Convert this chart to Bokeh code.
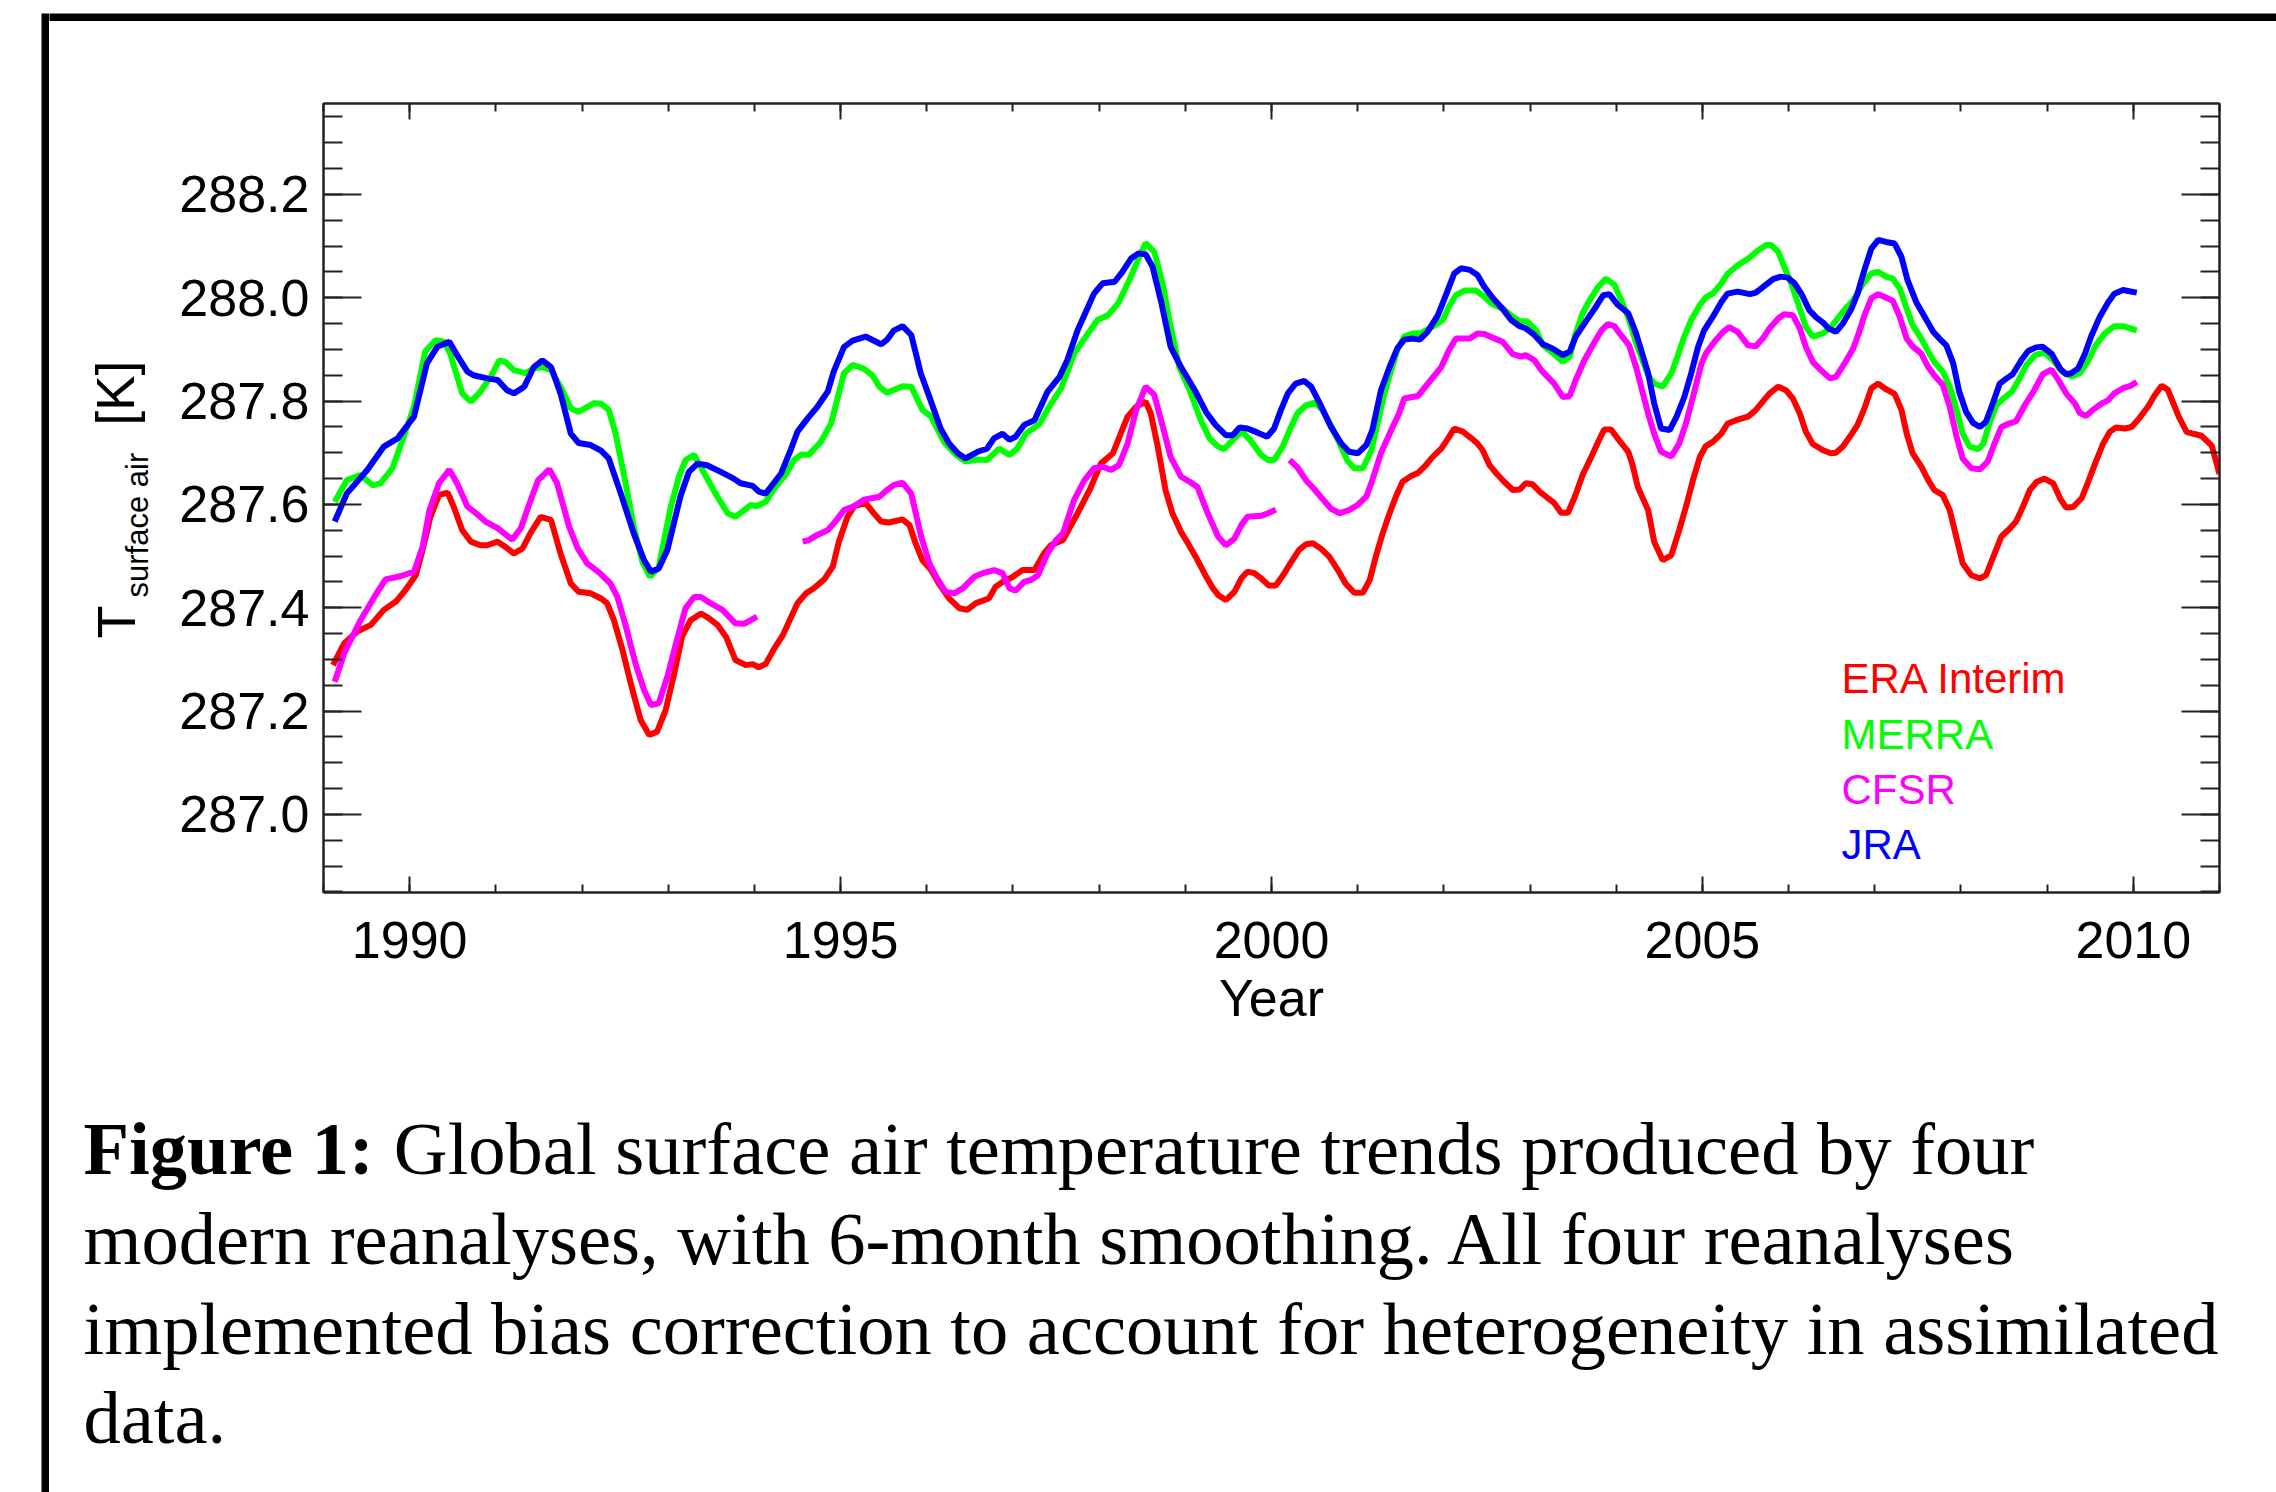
import math
from bokeh.plotting import figure
from bokeh.layouts import row, column
from bokeh.models import (Range1d, LinearAxis, SingleIntervalTicker, PrintfTickFormatter,
                          Label, CustomLabelingPolicy)
from bokeh.embed import file_html
from bokeh.resources import INLINE

NAN = float("nan")

# ---------------- data ----------------
era_year = [1989.11, 1989.24, 1989.39, 1989.55, 1989.70, 1989.84, 1989.95, 1990.07, 1990.15, 1990.24,
            1990.34, 1990.44, 1990.51, 1990.61, 1990.71, 1990.82, 1990.90, 1991.02, 1991.11, 1991.21,
            1991.31, 1991.40, 1991.52, 1991.64, 1991.75, 1991.87, 1991.96, 1992.10, 1992.22, 1992.29,
            1992.37, 1992.47, 1992.58, 1992.68, 1992.78, 1992.87, 1992.97, 1993.07, 1993.16, 1993.26,
            1993.38, 1993.47, 1993.57, 1993.67, 1993.78, 1993.90, 1993.98, 1994.05, 1994.13, 1994.23,
            1994.33, 1994.42, 1994.50, 1994.60, 1994.69, 1994.81, 1994.91, 1994.98, 1995.08, 1995.16,
            1995.29, 1995.37, 1995.47, 1995.56, 1995.72, 1995.80, 1995.87, 1995.95, 1996.05, 1996.14,
            1996.26, 1996.38, 1996.47, 1996.57, 1996.72, 1996.80, 1996.88, 1997.00, 1997.11, 1997.25,
            1997.36, 1997.44, 1997.58, 1997.75, 1997.89, 1998.02, 1998.16, 1998.25, 1998.33, 1998.43,
            1998.54, 1998.60, 1998.68, 1998.77, 1998.85, 1998.95, 1999.03, 1999.12, 1999.22, 1999.32,
            1999.38, 1999.47, 1999.57, 1999.65, 1999.72, 1999.80, 1999.88, 1999.97, 2000.05, 2000.15,
            2000.23, 2000.32, 2000.40, 2000.48, 2000.57, 2000.67, 2000.77, 2000.86, 2000.96, 2001.06,
            2001.14, 2001.21, 2001.29, 2001.37, 2001.45, 2001.52, 2001.62, 2001.70, 2001.78, 2001.87,
            2001.97, 2002.05, 2002.12, 2002.22, 2002.32, 2002.39, 2002.45, 2002.53, 2002.61, 2002.70,
            2002.80, 2002.88, 2002.95, 2003.03, 2003.11, 2003.21, 2003.28, 2003.36, 2003.44, 2003.52,
            2003.61, 2003.71, 2003.79, 2003.86, 2003.94, 2004.03, 2004.14, 2004.19, 2004.25, 2004.37,
            2004.44, 2004.54, 2004.64, 2004.73, 2004.81, 2004.89, 2004.97, 2005.04, 2005.12, 2005.22,
            2005.29, 2005.39, 2005.53, 2005.62, 2005.70, 2005.78, 2005.88, 2005.97, 2006.05, 2006.13,
            2006.20, 2006.28, 2006.40, 2006.49, 2006.55, 2006.63, 2006.71, 2006.80, 2006.88, 2006.96,
            2007.04, 2007.13, 2007.23, 2007.31, 2007.37, 2007.44, 2007.54, 2007.62, 2007.69, 2007.79,
            2007.87, 2007.95, 2008.02, 2008.12, 2008.22, 2008.29, 2008.39, 2008.47, 2008.57, 2008.64,
            2008.72, 2008.80, 2008.88, 2008.97, 2009.07, 2009.15, 2009.22, 2009.30, 2009.40, 2009.47,
            2009.55, 2009.65, 2009.73, 2009.80, 2009.90, 2009.98, 2010.07, 2010.17, 2010.25, 2010.33,
            2010.40, 2010.53, 2010.62, 2010.79, 2010.91, 2011.00]
era_temp = [287.289, 287.331, 287.354, 287.367, 287.396, 287.412, 287.434, 287.463, 287.512, 287.576,
            287.618, 287.623, 287.596, 287.550, 287.528, 287.521, 287.521, 287.528, 287.518, 287.505,
            287.515, 287.544, 287.576, 287.570, 287.505, 287.447, 287.431, 287.428, 287.418, 287.409,
            287.376, 287.318, 287.244, 287.183, 287.154, 287.160, 287.202, 287.273, 287.344, 287.376,
            287.389, 287.380, 287.367, 287.344, 287.299, 287.289, 287.291, 287.285, 287.291, 287.321,
            287.347, 287.380, 287.409, 287.428, 287.438, 287.455, 287.480, 287.528, 287.576, 287.597,
            287.603, 287.586, 287.567, 287.565, 287.571, 287.560, 287.525, 287.492, 287.473, 287.447,
            287.418, 287.399, 287.396, 287.409, 287.418, 287.441, 287.450, 287.460, 287.473, 287.473,
            287.505, 287.521, 287.531, 287.583, 287.628, 287.679, 287.699, 287.737, 287.770, 287.789,
            287.799, 287.776, 287.712, 287.628, 287.583, 287.547, 287.525, 287.499, 287.467, 287.438,
            287.425, 287.415, 287.431, 287.457, 287.470, 287.467, 287.457, 287.443, 287.443, 287.467,
            287.489, 287.512, 287.523, 287.525, 287.515, 287.499, 287.473, 287.447, 287.429, 287.429,
            287.454, 287.499, 287.544, 287.583, 287.618, 287.644, 287.655, 287.661, 287.674, 287.692,
            287.708, 287.728, 287.747, 287.741, 287.728, 287.718, 287.705, 287.676, 287.660, 287.644,
            287.628, 287.629, 287.641, 287.639, 287.625, 287.612, 287.603, 287.584, 287.584, 287.615,
            287.657, 287.692, 287.721, 287.745, 287.745, 287.725, 287.702, 287.676, 287.634, 287.589,
            287.528, 287.492, 287.502, 287.550, 287.596, 287.647, 287.692, 287.713, 287.721, 287.737,
            287.756, 287.763, 287.770, 287.783, 287.799, 287.815, 287.828, 287.821, 287.805, 287.776,
            287.741, 287.717, 287.705, 287.699, 287.700, 287.712, 287.731, 287.754, 287.786, 287.825,
            287.834, 287.823, 287.814, 287.783, 287.737, 287.699, 287.673, 287.647, 287.628, 287.618,
            287.589, 287.534, 287.486, 287.463, 287.457, 287.463, 287.505, 287.538, 287.554, 287.567,
            287.596, 287.628, 287.644, 287.650, 287.641, 287.612, 287.594, 287.595, 287.612, 287.641,
            287.676, 287.718, 287.741, 287.749, 287.747, 287.750, 287.767, 287.789, 287.812, 287.830,
            287.822, 287.769, 287.740, 287.733, 287.714, 287.659]

merra_year = [1989.13, 1989.27, 1989.43, 1989.57, 1989.66, 1989.80, 1989.93, 1990.05, 1990.18, 1990.30,
              1990.40, 1990.47, 1990.61, 1990.71, 1990.82, 1990.94, 1991.04, 1991.11, 1991.21, 1991.34,
              1991.44, 1991.54, 1991.64, 1991.75, 1991.87, 1991.96, 1992.14, 1992.22, 1992.31, 1992.39,
              1992.49, 1992.60, 1992.70, 1992.79, 1992.89, 1993.03, 1993.13, 1993.20, 1993.30, 1993.42,
              1993.57, 1993.69, 1993.78, 1993.96, 1994.03, 1994.13, 1994.23, 1994.36, 1994.46, 1994.54,
              1994.63, 1994.77, 1994.89, 1995.04, 1995.14, 1995.27, 1995.37, 1995.45, 1995.54, 1995.72,
              1995.82, 1995.95, 1996.05, 1996.20, 1996.34, 1996.45, 1996.59, 1996.70, 1996.84, 1996.96,
              1997.05, 1997.15, 1997.31, 1997.42, 1997.56, 1997.71, 1997.83, 1997.98, 1998.10, 1998.22,
              1998.35, 1998.45, 1998.54, 1998.64, 1998.74, 1998.83, 1998.93, 1999.05, 1999.18, 1999.28,
              1999.38, 1999.45, 1999.57, 1999.66, 1999.76, 1999.88, 1999.96, 2000.03, 2000.13, 2000.21,
              2000.30, 2000.40, 2000.50, 2000.59, 2000.69, 2000.79, 2000.88, 2000.96, 2001.06, 2001.16,
              2001.23, 2001.31, 2001.39, 2001.46, 2001.54, 2001.64, 2001.74, 2001.87, 2001.99, 2002.06,
              2002.14, 2002.24, 2002.37, 2002.47, 2002.55, 2002.70, 2002.80, 2002.88, 2002.97, 2003.07,
              2003.15, 2003.25, 2003.38, 2003.46, 2003.53, 2003.61, 2003.69, 2003.79, 2003.88, 2003.98,
              2004.06, 2004.15, 2004.23, 2004.37, 2004.44, 2004.54, 2004.64, 2004.71, 2004.79, 2004.87,
              2004.97, 2005.04, 2005.12, 2005.22, 2005.29, 2005.41, 2005.55, 2005.64, 2005.74, 2005.80,
              2005.88, 2005.95, 2006.03, 2006.11, 2006.20, 2006.28, 2006.40, 2006.49, 2006.57, 2006.65,
              2006.75, 2006.82, 2006.88, 2006.96, 2007.04, 2007.13, 2007.21, 2007.29, 2007.37, 2007.44,
              2007.54, 2007.62, 2007.69, 2007.79, 2007.87, 2007.95, 2008.02, 2008.10, 2008.20, 2008.26,
              2008.33, 2008.41, 2008.49, 2008.59, 2008.68, 2008.76, 2008.86, 2008.97, 2009.07, 2009.17,
              2009.28, 2009.38, 2009.48, 2009.57, 2009.67, 2009.78, 2009.88, 2010.04]
merra_temp = [287.605, 287.647, 287.657, 287.637, 287.641, 287.670, 287.731, 287.789, 287.896, 287.918,
              287.915, 287.892, 287.815, 287.799, 287.818, 287.847, 287.879, 287.876, 287.860, 287.854,
              287.863, 287.866, 287.860, 287.828, 287.786, 287.779, 287.796, 287.795, 287.783, 287.737,
              287.654, 287.557, 287.489, 287.460, 287.479, 287.596, 287.657, 287.686, 287.696, 287.660,
              287.615, 287.583, 287.576, 287.599, 287.597, 287.605, 287.631, 287.657, 287.686, 287.696,
              287.696, 287.721, 287.757, 287.854, 287.870, 287.863, 287.850, 287.828, 287.816, 287.829,
              287.828, 287.783, 287.770, 287.721, 287.696, 287.683, 287.687, 287.686, 287.708, 287.696,
              287.708, 287.737, 287.756, 287.789, 287.825, 287.892, 287.921, 287.957, 287.966, 287.989,
              288.034, 288.073, 288.106, 288.089, 288.025, 287.944, 287.866, 287.821, 287.763, 287.728,
              287.712, 287.707, 287.728, 287.741, 287.723, 287.696, 287.686, 287.686, 287.712, 287.744,
              287.776, 287.792, 287.797, 287.783, 287.753, 287.718, 287.685, 287.670, 287.670, 287.705,
              287.757, 287.815, 287.860, 287.899, 287.925, 287.931, 287.932, 287.944, 287.957, 287.983,
              288.005, 288.014, 288.014, 288.002, 287.989, 287.977, 287.963, 287.955, 287.954, 287.937,
              287.908, 287.895, 287.876, 287.886, 287.931, 287.970, 287.995, 288.021, 288.037, 288.025,
              287.995, 287.957, 287.912, 287.850, 287.834, 287.828, 287.854, 287.886, 287.925, 287.957,
              287.986, 288.001, 288.008, 288.028, 288.046, 288.063, 288.078, 288.091, 288.102, 288.102,
              288.089, 288.060, 288.028, 287.989, 287.944, 287.925, 287.931, 287.943, 287.960, 287.977,
              287.995, 288.015, 288.031, 288.047, 288.050, 288.041, 288.037, 288.018, 287.979, 287.947,
              287.921, 287.896, 287.876, 287.857, 287.828, 287.783, 287.737, 287.712, 287.707, 287.718,
              287.757, 287.792, 287.805, 287.818, 287.844, 287.870, 287.889, 287.894, 287.879, 287.857,
              287.848, 287.854, 287.879, 287.910, 287.931, 287.945, 287.945, 287.937]

# CFSR has three separate pieces (gaps marked with NaN)
cfsr_year = [1989.13, 1989.24, 1989.43, 1989.59, 1989.72, 1989.89, 1990.05, 1990.15, 1990.23, 1990.34,
             1990.46, 1990.55, 1990.67, 1990.77, 1990.88, 1991.02, 1991.12, 1991.19, 1991.29, 1991.39,
             1991.49, 1991.62, 1991.71, 1991.85, 1991.95, 1992.06, 1992.20, 1992.33, 1992.41, 1992.51,
             1992.62, 1992.72, 1992.80, 1992.89, 1992.99, 1993.09, 1993.20, 1993.30, 1993.38, 1993.49,
             1993.63, 1993.78, 1993.88, 1994.03, NAN,
             1994.56, 1994.63, 1994.73, 1994.85, 1994.92, 1995.04, 1995.16, 1995.27, 1995.45, 1995.54,
             1995.62, 1995.72, 1995.82, 1995.93, 1996.03, 1996.12, 1996.22, 1996.32, 1996.42, 1996.55,
             1996.65, 1996.78, 1996.88, 1996.96, 1997.03, 1997.13, 1997.21, 1997.29, 1997.40, 1997.50,
             1997.58, 1997.71, 1997.83, 1997.94, 1998.04, 1998.14, 1998.23, 1998.33, 1998.43, 1998.54,
             1998.64, 1998.74, 1998.83, 1998.95, 1999.05, 1999.14, 1999.26, 1999.38, 1999.47, 1999.57,
             1999.65, 1999.72, 1999.88, 1999.96, 2000.05, NAN,
             2000.21, 2000.30, 2000.40, 2000.50, 2000.57, 2000.69, 2000.79, 2000.90, 2001.00, 2001.10,
             2001.17, 2001.27, 2001.39, 2001.48, 2001.54, 2001.70, 2001.83, 2001.97, 2002.06, 2002.14,
             2002.30, 2002.39, 2002.47, 2002.59, 2002.68, 2002.80, 2002.90, 2002.95, 2003.05, 2003.13,
             2003.28, 2003.38, 2003.46, 2003.53, 2003.63, 2003.75, 2003.83, 2003.90, 2003.98, 2004.04,
             2004.15, 2004.23, 2004.37, 2004.44, 2004.52, 2004.64, 2004.73, 2004.81, 2004.89, 2004.99,
             2005.04, 2005.14, 2005.24, 2005.31, 2005.41, 2005.53, 2005.62, 2005.70, 2005.78, 2005.88,
             2005.95, 2006.05, 2006.13, 2006.20, 2006.28, 2006.38, 2006.48, 2006.55, 2006.65, 2006.75,
             2006.82, 2006.88, 2006.96, 2007.04, 2007.11, 2007.21, 2007.29, 2007.37, 2007.44, 2007.54,
             2007.62, 2007.69, 2007.79, 2007.87, 2007.95, 2008.02, 2008.12, 2008.22, 2008.31, 2008.39,
             2008.47, 2008.55, 2008.64, 2008.74, 2008.84, 2008.95, 2009.05, 2009.13, 2009.22, 2009.32,
             2009.38, 2009.45, 2009.53, 2009.63, 2009.71, 2009.78, 2009.88, 2009.96, 2010.04]
cfsr_temp = [287.257, 287.312, 287.376, 287.421, 287.455, 287.461, 287.470, 287.518, 287.589, 287.641,
             287.667, 287.641, 287.596, 287.583, 287.567, 287.554, 287.541, 287.532, 287.554, 287.602,
             287.647, 287.668, 287.641, 287.557, 287.515, 287.486, 287.468, 287.447, 287.421, 287.363,
             287.292, 287.241, 287.212, 287.215, 287.267, 287.331, 287.399, 287.421, 287.421, 287.409,
             287.396, 287.370, 287.369, 287.383, NAN,
             287.528, 287.531, 287.541, 287.550, 287.563, 287.589, 287.597, 287.609, 287.615, 287.628,
             287.638, 287.642, 287.621, 287.541, 287.486, 287.457, 287.431, 287.428, 287.438, 287.460,
             287.467, 287.473, 287.467, 287.438, 287.433, 287.450, 287.454, 287.463, 287.505, 287.531,
             287.544, 287.609, 287.647, 287.670, 287.673, 287.667, 287.676, 287.718, 287.783, 287.828,
             287.812, 287.750, 287.692, 287.654, 287.644, 287.634, 287.583, 287.538, 287.521, 287.534,
             287.560, 287.576, 287.578, 287.583, 287.590, NAN,
             287.686, 287.672, 287.647, 287.629, 287.615, 287.592, 287.583, 287.589, 287.599, 287.615,
             287.647, 287.699, 287.744, 287.776, 287.805, 287.810, 287.837, 287.866, 287.899, 287.921,
             287.921, 287.931, 287.930, 287.921, 287.915, 287.891, 287.886, 287.889, 287.879, 287.860,
             287.834, 287.808, 287.810, 287.841, 287.879, 287.915, 287.937, 287.949, 287.945, 287.931,
             287.908, 287.866, 287.776, 287.737, 287.702, 287.693, 287.718, 287.757, 287.808, 287.873,
             287.892, 287.915, 287.934, 287.943, 287.934, 287.908, 287.906, 287.921, 287.941, 287.960,
             287.968, 287.966, 287.941, 287.905, 287.876, 287.859, 287.844, 287.847, 287.873, 287.902,
             287.934, 287.966, 287.999, 288.007, 288.002, 287.994, 287.963, 287.921, 287.906, 287.892,
             287.866, 287.850, 287.831, 287.789, 287.731, 287.689, 287.670, 287.668, 287.683, 287.718,
             287.750, 287.756, 287.761, 287.792, 287.818, 287.852, 287.861, 287.841, 287.815, 287.796,
             287.777, 287.771, 287.783, 287.795, 287.802, 287.815, 287.825, 287.829, 287.837]

jra_year = [1989.13, 1989.27, 1989.51, 1989.70, 1989.86, 1990.05, 1990.20, 1990.32, 1990.46, 1990.55,
            1990.67, 1990.74, 1990.90, 1991.02, 1991.13, 1991.21, 1991.33, 1991.44, 1991.54, 1991.64,
            1991.75, 1991.87, 1991.96, 1992.10, 1992.22, 1992.31, 1992.45, 1992.60, 1992.72, 1992.80,
            1992.89, 1992.99, 1993.14, 1993.24, 1993.34, 1993.45, 1993.61, 1993.76, 1993.84, 1993.98,
            1994.05, 1994.13, 1994.31, 1994.42, 1994.50, 1994.62, 1994.73, 1994.85, 1994.92, 1995.04,
            1995.14, 1995.29, 1995.47, 1995.54, 1995.62, 1995.72, 1995.82, 1995.93, 1996.05, 1996.16,
            1996.26, 1996.36, 1996.45, 1996.59, 1996.70, 1996.78, 1996.88, 1996.96, 1997.03, 1997.13,
            1997.25, 1997.40, 1997.54, 1997.63, 1997.75, 1997.94, 1998.04, 1998.18, 1998.27, 1998.37,
            1998.46, 1998.54, 1998.62, 1998.72, 1998.83, 1998.95, 1999.12, 1999.24, 1999.35, 1999.47,
            1999.55, 1999.63, 1999.72, 1999.84, 1999.95, 2000.03, 2000.11, 2000.19, 2000.28, 2000.38,
            2000.46, 2000.55, 2000.69, 2000.81, 2000.90, 2001.00, 2001.10, 2001.17, 2001.27, 2001.37,
            2001.46, 2001.54, 2001.64, 2001.72, 2001.81, 2001.93, 2002.03, 2002.12, 2002.20, 2002.30,
            2002.39, 2002.47, 2002.57, 2002.68, 2002.78, 2002.88, 2002.95, 2003.05, 2003.15, 2003.26,
            2003.38, 2003.46, 2003.53, 2003.63, 2003.75, 2003.85, 2003.92, 2004.02, 2004.14, 2004.23,
            2004.37, 2004.44, 2004.52, 2004.62, 2004.70, 2004.79, 2004.87, 2004.95, 2005.02, 2005.12,
            2005.22, 2005.29, 2005.41, 2005.55, 2005.62, 2005.72, 2005.82, 2005.91, 2005.99, 2006.07,
            2006.15, 2006.24, 2006.32, 2006.40, 2006.46, 2006.55, 2006.63, 2006.73, 2006.80, 2006.88,
            2006.96, 2007.04, 2007.13, 2007.23, 2007.31, 2007.38, 2007.48, 2007.58, 2007.68, 2007.75,
            2007.83, 2007.91, 2007.98, 2008.06, 2008.14, 2008.22, 2008.29, 2008.37, 2008.45, 2008.53,
            2008.60, 2008.70, 2008.78, 2008.87, 2008.95, 2009.05, 2009.15, 2009.22, 2009.28, 2009.36,
            2009.44, 2009.51, 2009.61, 2009.71, 2009.78, 2009.88, 2010.04]
jra_temp = [287.567, 287.621, 287.667, 287.712, 287.728, 287.770, 287.873, 287.905, 287.915, 287.889,
            287.857, 287.850, 287.844, 287.841, 287.821, 287.815, 287.828, 287.866, 287.879, 287.866,
            287.815, 287.737, 287.719, 287.715, 287.704, 287.689, 287.621, 287.544, 287.492, 287.470,
            287.476, 287.512, 287.615, 287.663, 287.679, 287.676, 287.663, 287.650, 287.641, 287.636,
            287.625, 287.621, 287.660, 287.705, 287.741, 287.767, 287.789, 287.818, 287.857, 287.905,
            287.917, 287.925, 287.910, 287.919, 287.937, 287.945, 287.928, 287.854, 287.799, 287.747,
            287.718, 287.699, 287.689, 287.702, 287.708, 287.728, 287.737, 287.725, 287.731, 287.754,
            287.763, 287.818, 287.847, 287.879, 287.937, 288.008, 288.028, 288.031, 288.050, 288.076,
            288.086, 288.084, 288.060, 287.992, 287.905, 287.866, 287.818, 287.779, 287.754, 287.734,
            287.734, 287.749, 287.747, 287.739, 287.731, 287.747, 287.783, 287.815, 287.834, 287.839,
            287.828, 287.799, 287.750, 287.718, 287.702, 287.699, 287.715, 287.744, 287.821, 287.866,
            287.902, 287.919, 287.921, 287.919, 287.934, 287.966, 288.008, 288.047, 288.057, 288.054,
            288.044, 288.021, 287.999, 287.979, 287.957, 287.945, 287.941, 287.928, 287.910, 287.902,
            287.889, 287.896, 287.925, 287.950, 287.979, 288.005, 288.007, 287.986, 287.970, 287.931,
            287.854, 287.796, 287.747, 287.744, 287.770, 287.808, 287.854, 287.905, 287.937, 287.963,
            287.992, 288.008, 288.012, 288.007, 288.010, 288.023, 288.036, 288.041, 288.039, 288.028,
            288.007, 287.976, 287.962, 287.952, 287.941, 287.934, 287.950, 287.979, 288.008, 288.054,
            288.095, 288.112, 288.108, 288.105, 288.079, 288.034, 287.992, 287.963, 287.934, 287.921,
            287.908, 287.873, 287.818, 287.779, 287.758, 287.750, 287.760, 287.796, 287.834, 287.844,
            287.852, 287.879, 287.897, 287.904, 287.905, 287.892, 287.863, 287.852, 287.854, 287.863,
            287.892, 287.925, 287.963, 287.992, 288.008, 288.015, 288.010]

series_names = ["ERA Interim", "MERRA", "CFSR", "JRA"]
series_colors = ["#ff0000", "#00ff00", "#ff00ff", "#0000ff"]

x_ticks_interval = 5
y_ticks_interval = 0.2
x_limits = (1989.0, 2011.0)
y_limits = (286.849, 288.376)

caption_bold = "Figure 1:"
caption_lines = ["Global surface air temperature trends produced by four",
                 "modern reanalyses, with 6-month smoothing. All four reanalyses",
                 "implemented bias correction to account for heterogeneity in assimilated",
                 "data."]

# ---------------- page geometry (pixels) ----------------
W, H = 2276, 1492
BL, BT = 41, 13          # outer page border: left / top edge start
BW = 8                   # border thickness
LEFT_W = BL + BW         # width of left border strip  (49)
TOP_H = BT + BW          # height of top border strip  (21)
YT_W = 120               # strip holding the y-axis title
MID_H = 1059             # chart row height
CAP_H = H - TOP_H - MID_H
FL, FR, FT, FB = 323, 2219, 103, 892   # plot frame on the page
PX0 = LEFT_W + YT_W                     # page x where the chart figure starts
PY0 = TOP_H                             # page y where the chart figure starts

AX = "#222222"
SANS = "Liberation Sans"
SERIF = "Liberation Serif"
SHIFT = 0.37             # label baseline correction (fraction of font size)


def blank(width, height, **kw):
    f = figure(width=width, height=height, output_backend="svg", toolbar_location=None,
               x_axis_location=None, y_axis_location=None,
               x_range=Range1d(0, 1), y_range=Range1d(0, 1), **kw)
    f.grid.visible = False
    f.outline_line_color = None
    f.border_fill_color = "white"
    return f


# border strips (their frames are the black border lines)
left_strip = blank(LEFT_W, H, min_border_left=BL, min_border_right=0,
                   min_border_top=BT, min_border_bottom=0, background_fill_color="black")
top_strip = blank(W - LEFT_W, TOP_H, min_border_left=0, min_border_right=0,
                  min_border_top=BT, min_border_bottom=0, background_fill_color="black")

# ---------------- main chart ----------------
p = figure(width=W - LEFT_W - YT_W, height=MID_H, output_backend="svg", toolbar_location=None,
           x_range=Range1d(*x_limits), y_range=Range1d(*y_limits),
           min_border_left=FL - PX0, min_border_right=W - FR,
           min_border_top=FT - PY0, min_border_bottom=PY0 + MID_H - FB)
p.grid.visible = False
p.background_fill_color = "white"
p.border_fill_color = "white"
p.outline_line_color = AX
p.outline_line_width = 2

no_labels = CustomLabelingPolicy(code="return []")


def style_axis(ax, tin, tmin, labels):
    ax.major_tick_in = tin
    ax.major_tick_out = 0
    ax.minor_tick_in = tmin
    ax.minor_tick_out = 0
    ax.major_tick_line_color = AX
    ax.minor_tick_line_color = AX
    ax.major_tick_line_width = 2
    ax.minor_tick_line_width = 2
    ax.axis_line_color = AX
    ax.axis_line_width = 2
    ax.major_label_text_font = SANS
    ax.major_label_text_color = "black"
    if labels:
        ax.major_label_text_font_size = "52px"
    else:
        ax.major_label_text_font_size = "0px"
        ax.major_label_policy = no_labels


bx = p.xaxis[0]
bx.ticker = SingleIntervalTicker(interval=x_ticks_interval, num_minor_ticks=5)
style_axis(bx, 16, 8, True)
bx.major_label_standoff = 29
bx.axis_label = "Year"
bx.axis_label_text_font = SANS
bx.axis_label_text_font_size = "52px"
bx.axis_label_text_font_style = "normal"
bx.axis_label_text_color = "black"
bx.axis_label_standoff = 8

ly = p.yaxis[0]
ly.ticker = SingleIntervalTicker(interval=y_ticks_interval, num_minor_ticks=4)
ly.formatter = PrintfTickFormatter(format="%.1f")
style_axis(ly, 38, 19, True)
ly.major_label_standoff = 14

tx = LinearAxis(ticker=SingleIntervalTicker(interval=x_ticks_interval, num_minor_ticks=5))
style_axis(tx, 16, 8, False)
p.add_layout(tx, "above")

ry = LinearAxis(ticker=SingleIntervalTicker(interval=y_ticks_interval, num_minor_ticks=4))
style_axis(ry, 38, 19, False)
p.add_layout(ry, "right")

xs = [era_year, merra_year, cfsr_year, jra_year]
ys = [era_temp, merra_temp, cfsr_temp, jra_temp]
for xv, yv, c in zip(xs, ys, series_colors):
    p.line(xv, yv, line_color=c, line_width=6)

# text legend inside the frame
LEG_SIZE = 42
leg_x = 1841 - FL
leg_base = [694, 750, 805, 860]
for name, c, yb in zip(series_names, series_colors, leg_base):
    p.add_layout(Label(x=leg_x, y=FB - (yb - SHIFT * LEG_SIZE), x_units="screen", y_units="screen",
                       text=name, text_color=c, text_font=SANS, text_font_size=f"{LEG_SIZE}px",
                       text_align="left", text_baseline="alphabetic"))

# ---------------- y-axis title: T_{surface air} [K] ----------------
# (the row aligns this strip's frame with the chart frame, so its frame bottom is at page y = FB)
ytf = blank(YT_W, MID_H, min_border=0, background_fill_color="white")
for txt, base_x, start_y, size in [("T", 135, 638, 54), ("surface air", 148, 597, 31),
                                   ("[K]", 135, 425, 53)]:
    ytf.add_layout(Label(x=base_x - SHIFT * size - LEFT_W, y=FB - start_y,
                         x_units="screen", y_units="screen", text=txt, angle=math.pi / 2,
                         text_font=SANS, text_font_size=f"{size}px", text_color="black",
                         text_align="left", text_baseline="alphabetic"))

# ---------------- caption ----------------
capf = blank(W - LEFT_W, CAP_H, min_border=0, background_fill_color="white")
CAP_X = 83
CAP_SIZE = 74.5
cap_base = [1176, 1266, 1356, 1445]
bold_w = (3.916 + 0.25) * CAP_SIZE
capf.add_layout(Label(x=CAP_X - LEFT_W, y=H - (cap_base[0] - SHIFT * CAP_SIZE),
                      x_units="screen", y_units="screen", text=caption_bold,
                      text_font=SERIF, text_font_style="bold", text_font_size=f"{CAP_SIZE}px",
                      text_color="black", text_align="left", text_baseline="alphabetic"))
for i, (line, yb) in enumerate(zip(caption_lines, cap_base)):
    x0 = CAP_X + (bold_w if i == 0 else 0)
    capf.add_layout(Label(x=x0 - LEFT_W, y=H - (yb - SHIFT * CAP_SIZE),
                          x_units="screen", y_units="screen", text=line,
                          text_font=SERIF, text_font_size=f"{CAP_SIZE}px", text_color="black",
                          text_align="left", text_baseline="alphabetic"))

layout = row(left_strip, column(top_strip, row(ytf, p), capf))

open("out.html", "w").write(file_html(layout, INLINE))
